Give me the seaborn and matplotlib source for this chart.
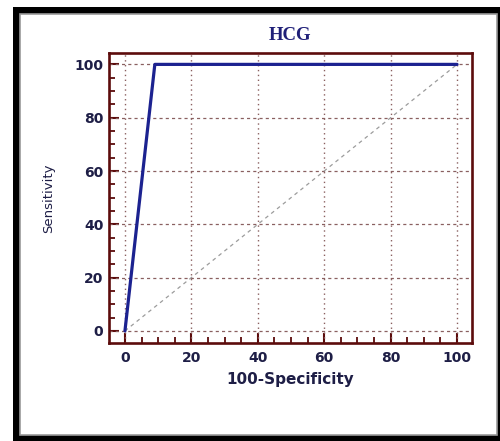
import matplotlib
matplotlib.use("Agg")
import matplotlib.pyplot as plt
from matplotlib.patches import Rectangle
from matplotlib.ticker import MultipleLocator
import pandas as pd
import seaborn as sns

# ROC curve points
fpr = [0, 9, 100]           # 100-Specificity
tpr = [0, 100, 100]         # Sensitivity
diag = [0, 100]
ticks = [0, 20, 40, 60, 80, 100]

roc = pd.DataFrame({"fpr": fpr, "tpr": tpr})
ref = pd.DataFrame({"x": diag, "y": diag})

sns.set_style("ticks")
plt.rcParams["font.family"] = ["DejaVu Sans"]

spine_col = "#5c0c0c"
text_col = "#1e1e46"

fig = plt.figure(figsize=(5, 4.41), dpi=100)
fig.patch.set_facecolor("white")

# black picture frame with thin gray inner line
fig.add_artist(Rectangle((0.026, 0.0), 0.974, 0.984, transform=fig.transFigure,
                         facecolor="black", edgecolor="none", zorder=-3))
fig.add_artist(Rectangle((0.040, 0.0136), 0.954, 0.954, transform=fig.transFigure,
                         facecolor="white", edgecolor="#9a9a9a", linewidth=1.2, zorder=-2))

ax = fig.add_axes([0.218, 0.223, 0.726, 0.657])
ax.set_facecolor("white")

sns.lineplot(data=ref, x="x", y="y", ax=ax, color="#9c9c9c", linestyle=(0, (3, 3)),
             linewidth=0.9, zorder=2)
sns.lineplot(data=roc, x="fpr", y="tpr", ax=ax, color="#1c2290", linewidth=2.3,
             zorder=3, estimator=None, sort=False)

ax.set_xlim(-4.8, 104.5)
ax.set_ylim(-4.4, 104.3)
ax.set_xticks(ticks)
ax.set_yticks(ticks)
ax.xaxis.set_minor_locator(MultipleLocator(5))
ax.yaxis.set_minor_locator(MultipleLocator(5))

for v in ticks:
    ax.axvline(v, color="#8a6060", linestyle=(0, (1, 2.5)), linewidth=1.0, zorder=1)
    ax.axhline(v, color="#8a6060", linestyle=(0, (2.5, 2.5)), linewidth=0.9, zorder=1)

for s in ax.spines.values():
    s.set_color(spine_col)
    s.set_linewidth(1.9)

ax.tick_params(which="major", direction="in", length=7, width=1.5, color=spine_col,
               labelsize=10, labelcolor=text_col, pad=4)
ax.tick_params(axis="x", which="major", pad=6)
ax.tick_params(which="minor", direction="in", length=4, width=1.3, color=spine_col)
for lab in ax.get_xticklabels() + ax.get_yticklabels():
    lab.set_fontweight("bold")

ax.set_xlabel("100-Specificity", fontsize=11, fontweight="bold", color=text_col, labelpad=5)
ax.set_ylabel("Sensitivity", fontsize=9.5, color=text_col, labelpad=14)
ax.set_title("HCG", fontsize=13.5, fontweight="bold", color="#1f1f78",
             family=["Liberation Serif", "DejaVu Serif"], pad=9)

fig.savefig("out.png", dpi=100, facecolor=fig.get_facecolor())
